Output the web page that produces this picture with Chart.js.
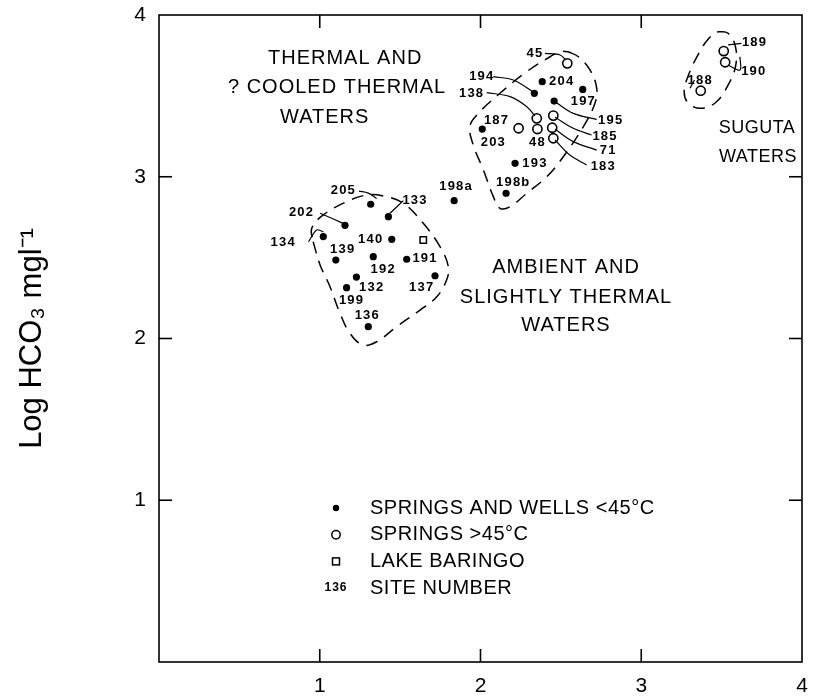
<!DOCTYPE html>
<html>
<head>
<meta charset="utf-8">
<script src="https://cdn.jsdelivr.net/npm/chart.js@4.4.1/dist/chart.umd.min.js"></script>
<style>
  html, body { margin: 0; padding: 0; background: #fff; }
</style>
</head>
<body>
<canvas id="grafico" width="829" height="696"></canvas>
<script>
// eixos
const tickVals = [0, 1, 2, 3, 4];

// nascentes e poços < 45 °C
const dotsX = [1.317, 1.427, 1.157, 1.022, 1.448, 1.100, 1.333, 1.541, 1.717, 1.228, 1.167, 1.302, 1.836,
  2.384, 2.335, 2.636, 2.458, 2.011, 2.215, 2.159];
const dotsY = [2.83, 2.753, 2.70, 2.63, 2.613, 2.485, 2.506, 2.49, 2.388, 2.38, 2.314, 2.073, 2.852,
  3.588, 3.516, 3.54, 3.468, 3.295, 3.083, 2.898];

// nascentes > 45 °C
const hotX = [2.540, 2.350, 2.354, 2.237, 2.453, 2.446, 2.453, 3.513, 3.522, 3.37];
const hotY = [3.701, 3.361, 3.295, 3.30, 3.378, 3.303, 3.238, 3.777, 3.708, 3.532];

// lago Baringo
const lakeX = [1.644];
const lakeY = [2.609];

// números dos locais (texto)
const siteNames = ["205", "202", "134", "133", "140", "139", "192", "191", "132", "137", "199", "136", "198a",
  "45", "194", "138", "204", "197", "195", "185", "71", "183", "187", "203", "48", "193", "198b",
  "189", "190", "188"];
const siteLabelX = [1.147, 0.887, 0.773, 1.593, 1.317, 1.143, 1.395, 1.655, 1.323, 1.634, 1.198, 1.296, 1.848,
  2.339, 2.008, 1.945, 2.505, 2.640, 2.810, 2.775, 2.795, 2.764, 2.100, 2.080, 2.354, 2.339, 2.204,
  3.705, 3.700, 3.367];
const siteLabelY = [2.918, 2.778, 2.592, 2.852, 2.613, 2.553, 2.428, 2.492, 2.317, 2.317, 2.234, 2.141, 2.939,
  3.763, 3.619, 3.516, 3.588, 3.468, 3.347, 3.252, 3.165, 3.066, 3.351, 3.213, 3.213, 3.083, 2.963,
  3.829, 3.654, 3.598];

// contornos tracejados dos grupos
const ambientX = [0.959, 1.002, 1.064, 1.126, 1.188, 1.270, 1.354, 1.478, 1.624, 1.728, 1.789, 1.800, 1.748,
  1.644, 1.520, 1.395, 1.292, 1.167, 1.022, 0.950, 0.959];
const ambientY = [2.598, 2.455, 2.320, 2.156, 2.032, 1.960, 1.980, 2.073, 2.176, 2.258, 2.362, 2.444, 2.568,
  2.712, 2.836, 2.881, 2.887, 2.846, 2.764, 2.681, 2.598];
const thermalX = [2.546, 2.609, 2.681, 2.723, 2.712, 2.640, 2.515, 2.412, 2.288, 2.184, 2.121, 2.080, 2.018,
  1.955, 1.934, 1.977, 2.121, 2.288, 2.433, 2.495, 2.546];
const thermalY = [3.773, 3.742, 3.660, 3.547, 3.454, 3.310, 3.124, 3.000, 2.898, 2.815, 2.805, 2.877, 3.042,
  3.196, 3.310, 3.382, 3.516, 3.650, 3.742, 3.773, 3.773];
const sugutaX = [3.477, 3.540, 3.586, 3.586, 3.540, 3.468, 3.376, 3.294, 3.267, 3.294, 3.358, 3.421, 3.477];
const sugutaY = [3.897, 3.887, 3.804, 3.680, 3.567, 3.464, 3.423, 3.454, 3.526, 3.629, 3.763, 3.856, 3.897];

// linhas de chamada (label -> ponto)
const leaders = [
  { x: [1.244, 1.302, 1.354], y: [2.911, 2.899, 2.865] },       // 205
  { x: [1.002, 1.146], y: [2.774, 2.712] },                      // 202
  { x: [1.520, 1.437], y: [2.852, 2.774] },                      // 133
  { x: [0.930, 0.981, 1.022], y: [2.598, 2.671, 2.659] },        // 134
  { x: [2.401, 2.495, 2.532], y: [3.763, 3.753, 3.721] },        // 45
  { x: [2.080, 2.204, 2.335], y: [3.619, 3.598, 3.520] },        // 194
  { x: [2.039, 2.184, 2.288, 2.339], y: [3.520, 3.495, 3.433, 3.376] }, // 138
  { x: [2.464, 2.577, 2.723], y: [3.464, 3.392, 3.355] },        // 195
  { x: [2.464, 2.577, 2.691], y: [3.368, 3.300, 3.258] },        // 185
  { x: [2.464, 2.577, 2.723], y: [3.293, 3.217, 3.165] },        // 71
  { x: [2.464, 2.556, 2.660], y: [3.227, 3.134, 3.073] },        // 183
  { x: [3.540, 3.623], y: [3.815, 3.825] },                      // 189
  { x: [3.540, 3.614, 3.614], y: [3.691, 3.660, 3.742] },        // 190
  { x: [3.303, 3.331], y: [3.547, 3.598] }                       // 188
];

// textos das regiões
const regionText = ["THERMAL AND", "? COOLED THERMAL", "WATERS",
  "AMBIENT AND", "SLIGHTLY THERMAL", "WATERS", "SUGUTA", "WATERS"];
const regionX = [0.678, 0.429, 0.753, 2.532, 2.532, 2.532, 3.720, 3.726];
const regionY = [3.734, 3.549, 3.369, 2.442, 2.256, 2.083, 3.301, 3.122];
const regionAlign = ["left", "left", "left", "center", "center", "center", "center", "center"];
const regionSize = [20, 20, 20, 20, 20, 20, 18, 18];

// legenda
const legendText = ["SPRINGS AND WELLS <45°C", "SPRINGS >45°C", "LAKE BARINGO", "SITE NUMBER"];

const FONTE = "'Liberation Sans', Arial, sans-serif";

function pares(xs, ys) {
  return xs.map((v, i) => ({ x: v, y: ys[i] }));
}

function contorno(xs, ys) {
  return {
    type: "line",
    data: pares(xs, ys),
    borderColor: "#000",
    borderWidth: 1.5,
    borderDash: [12, 8],
    pointRadius: 0,
    tension: 0.4,
    fill: false,
  };
}

const datasets = [
  contorno(ambientX, ambientY),
  contorno(thermalX, thermalY),
  contorno(sugutaX, sugutaY),
];

leaders.forEach((l) => {
  datasets.push({
    type: "line",
    data: pares(l.x, l.y),
    borderColor: "#000",
    borderWidth: 1.2,
    pointRadius: 0,
    tension: 0.35,
    fill: false,
  });
});

datasets.push({
  label: "Springs and wells <45°C",
  data: pares(dotsX, dotsY),
  pointRadius: 3.6,
  pointBackgroundColor: "#000",
  pointBorderColor: "#000",
  pointBorderWidth: 0,
});
datasets.push({
  label: "Springs >45°C",
  data: pares(hotX, hotY),
  pointRadius: 4.6,
  pointBackgroundColor: "#fff",
  pointBorderColor: "#000",
  pointBorderWidth: 1.6,
});
datasets.push({
  label: "Lake Baringo",
  data: pares(lakeX, lakeY),
  pointStyle: "rect",
  pointRadius: 4.5,
  pointBackgroundColor: "#fff",
  pointBorderColor: "#000",
  pointBorderWidth: 1.5,
});

function linha(ctx, x1, y1, x2, y2) {
  ctx.beginPath();
  ctx.moveTo(x1, y1);
  ctx.lineTo(x2, y2);
  ctx.stroke();
}

// moldura, ticks interiores, textos e legenda
const overlay = {
  id: "overlay",
  afterDatasetsDraw(chart) {
    const { ctx, chartArea: a, scales } = chart;
    const sx = scales.x, sy = scales.y;
    ctx.save();
    ctx.strokeStyle = "#000";
    ctx.lineWidth = 1.6;
    ctx.strokeRect(a.left, a.top, a.right - a.left, a.bottom - a.top);

    const tl = 13;
    tickVals.forEach((v) => {
      if (v <= 0 || v >= 4) return;
      const px = sx.getPixelForValue(v);
      const py = sy.getPixelForValue(v);
      linha(ctx, px, a.bottom, px, a.bottom - tl);
      linha(ctx, px, a.top, px, a.top + tl);
      linha(ctx, a.left, py, a.left + tl, py);
      linha(ctx, a.right, py, a.right - tl, py);
    });

    ctx.fillStyle = "#000";
    ctx.textBaseline = "middle";

    // números dos locais
    ctx.font = "bold 13px " + FONTE;
    ctx.letterSpacing = "1.2px";
    ctx.textAlign = "center";
    siteNames.forEach((n, i) => {
      ctx.fillText(n, sx.getPixelForValue(siteLabelX[i]), sy.getPixelForValue(siteLabelY[i]));
    });

    // regiões
    regionText.forEach((t, i) => {
      ctx.font = regionSize[i] + "px " + FONTE;
      ctx.letterSpacing = regionSize[i] < 20 ? "0.5px" : "1px";
      ctx.textAlign = regionAlign[i];
      ctx.fillText(t, sx.getPixelForValue(regionX[i]), sy.getPixelForValue(regionY[i]));
    });

    // legenda
    ctx.font = "20px " + FONTE;
    ctx.letterSpacing = "0.5px";
    const lx = a.left + 177;
    const tx = a.left + 211;
    const ly0 = a.top + 493;
    const dy = 26.7;
    ctx.textAlign = "left";
    legendText.forEach((t, i) => {
      ctx.fillText(t, tx, ly0 + i * dy);
    });
    ctx.beginPath();
    ctx.arc(lx, ly0, 3.2, 0, Math.PI * 2);
    ctx.fill();
    ctx.lineWidth = 1.5;
    ctx.beginPath();
    ctx.arc(lx, ly0 + dy, 4.2, 0, Math.PI * 2);
    ctx.stroke();
    ctx.strokeRect(lx - 3.5, ly0 + 2 * dy - 3.5, 7, 7);
    ctx.font = "bold 12px " + FONTE;
    ctx.letterSpacing = "1px";
    ctx.textAlign = "center";
    ctx.fillText("136", lx, ly0 + 3 * dy);
    ctx.restore();
  },
};

const ctx = document.getElementById("grafico").getContext("2d");
new Chart(ctx, {
  type: "scatter",
  data: { datasets },
  options: {
    responsive: false,
    animation: false,
    layout: { autoPadding: false, padding: { top: 15, right: 27, left: 0, bottom: 0 } },
    plugins: { legend: { display: false }, tooltip: { enabled: false } },
    scales: {
      x: {
        type: "linear",
        min: 0,
        max: 4,
        afterFit: (s) => {
          s.height = 34;
          s.paddingLeft = 0;
          s.paddingRight = 0;
        },
        afterBuildTicks: (s) => { s.ticks = tickVals.map((v) => ({ value: v })); },
        grid: { display: false, drawTicks: false },
        border: { display: false },
        ticks: {
          padding: 12,
          color: "#000",
          font: { family: FONTE, size: 21 },
          callback: (v) => (v === 0 ? "" : String(v)),
        },
      },
      y: {
        type: "linear",
        min: 0,
        max: 4,
        afterFit: (s) => {
          s.width = 159;
          s.paddingTop = 0;
          s.paddingBottom = 0;
        },
        afterBuildTicks: (s) => { s.ticks = tickVals.map((v) => ({ value: v })); },
        grid: { display: false, drawTicks: false },
        border: { display: false },
        ticks: {
          padding: 13,
          color: "#000",
          font: { family: FONTE, size: 21 },
          callback: (v) => (v === 0 ? "" : String(v)),
        },
        title: {
          display: true,
          text: "Log HCO\u2083 mgl\u207B\u00B9",
          color: "#000",
          font: { family: FONTE, size: 31, lineHeight: 1.2 },
          padding: { top: 14, bottom: 0 },
        },
      },
    },
  },
  plugins: [overlay],
});
</script>
</body>
</html>
